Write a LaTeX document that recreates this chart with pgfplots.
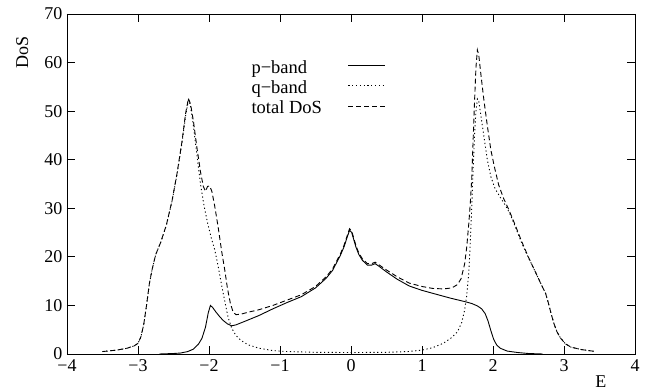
\documentclass[border=0pt]{standalone}
\usepackage{fontspec}
\setmainfont{Liberation Serif}
\usepackage{pgfplots}
\pgfplotsset{compat=1.18}
\usepackage{pgfplotstable}

\pgfplotstableread{
E D
-2.7 0
-2.5 0.1
-2.4 0.2
-2.3 0.5
-2.22 1.0
-2.15 2.0
-2.1 3.2
-2.05 5.5
-2.01 8.5
-1.98 10.0
-1.95 9.6
-1.9 8.6
-1.85 7.7
-1.8 6.9
-1.74 6.2
-1.68 5.8
-1.62 6.0
-1.5 6.7
-1.3 7.9
-1.1 9.3
-0.9 10.6
-0.7 11.8
-0.5 13.6
-0.35 15.6
-0.26 17.2
-0.15 20.3
-0.1 22.0
-0.05 24.2
-0.02 25.5
0.01 25.0
0.04 23.5
0.07 22.0
0.11 20.5
0.16 19.3
0.23 18.3
0.29 18.3
0.34 18.6
0.4 18.0
0.5 16.9
0.65 15.4
0.82 14.0
1.0 13.1
1.2 12.3
1.4 11.5
1.6 10.8
1.7 10.4
1.78 9.9
1.84 9.3
1.89 8.3
1.93 6.8
1.97 4.8
2.01 3.0
2.05 1.9
2.1 1.2
2.2 0.6
2.35 0.3
2.5 0.1
2.7 0
}\pband

\pgfplotstableread{
E D
-3.5 0.5
-3.3 0.8
-3.15 1.2
-3.05 1.7
-3.0 2.2
-2.96 3.5
-2.92 6
-2.88 10
-2.84 14.5
-2.8 17.5
-2.75 20.5
-2.68 23
-2.6 26.5
-2.52 31.5
-2.45 37
-2.38 43.5
-2.33 49
-2.29 52.3
-2.26 51
-2.22 47
-2.17 41
-2.12 35
-2.07 30.5
-2.02 27
-1.97 24
-1.92 21.5
-1.87 18
-1.82 14
-1.78 11
-1.73 7.5
-1.68 5.3
-1.62 3.8
-1.55 2.8
-1.45 1.9
-1.3 1.2
-1.1 0.7
-0.9 0.5
-0.5 0.35
0.0 0.3
0.5 0.35
0.8 0.5
1.0 0.8
1.15 1.3
1.3 2.2
1.42 3.4
1.5 4.6
1.56 6.5
1.6 9
1.63 12
1.66 17
1.68 23
1.7 30
1.72 38
1.74 45
1.76 50
1.78 52.5
1.8 52
1.83 49
1.87 45
1.92 40
1.97 36.5
2.03 34
2.1 32.3
2.18 30.5
2.25 28.5
2.32 26
2.4 23
2.5 19.8
2.6 16.8
2.68 14.3
2.74 12.5
2.78 10.5
2.82 8.2
2.86 6.2
2.9 4.6
2.95 3.3
3.02 2.1
3.1 1.4
3.25 0.9
3.45 0.5
}\qband

\pgfplotstableread{
E D
-3.5 0.5
-3.3 0.8
-3.15 1.2
-3.05 1.7
-3.0 2.2
-2.96 3.5
-2.92 6
-2.88 10
-2.84 14.5
-2.8 17.5
-2.75 20.5
-2.68 23
-2.6 26.6
-2.52 31.6
-2.45 37.2
-2.38 43.8
-2.33 49.5
-2.29 52.6
-2.26 51.5
-2.22 48
-2.17 42.5
-2.12 37.5
-2.08 34.5
-2.05 33.5
-2.02 34.5
-1.99 34.6
-1.96 33.5
-1.92 30.5
-1.87 26
-1.82 21
-1.78 17.5
-1.74 13.5
-1.7 10.5
-1.66 8.6
-1.62 8.1
-1.55 8.2
-1.45 8.6
-1.3 9.1
-1.1 10
-0.9 11.1
-0.7 12.2
-0.5 13.9
-0.35 15.9
-0.26 17.5
-0.15 20.6
-0.1 22.3
-0.05 24.5
-0.02 25.8
0.01 25.3
0.04 23.8
0.07 22.3
0.11 20.8
0.16 19.6
0.23 18.6
0.29 18.6
0.34 18.9
0.4 18.3
0.5 17.3
0.65 15.9
0.82 14.6
1.0 13.9
1.15 13.5
1.3 13.4
1.42 13.6
1.5 14.3
1.55 15.5
1.6 18.5
1.63 22
1.66 27
1.68 31
1.7 36
1.72 44
1.74 52
1.76 59
1.78 62.6
1.8 61.5
1.83 57.5
1.87 52.5
1.92 47
1.97 42
2.02 38.5
2.08 34.8
2.15 32
2.22 29.8
2.3 27
2.4 23.3
2.5 19.9
2.6 16.8
2.68 14.3
2.74 12.5
2.78 10.5
2.82 8.2
2.86 6.2
2.9 4.6
2.95 3.3
3.02 2.1
3.1 1.4
3.25 0.9
3.45 0.5
}\total

\begin{document}
\begin{tikzpicture}
\begin{axis}[
  width=568pt, height=340pt, scale only axis,
  xmin=-4, xmax=4, ymin=0, ymax=70,
  xtick={-4,-3,-2,-1,0,1,2,3,4},
  xticklabels={−4,−3,−2,−1,0,1,2,3,4},
  ytick={0,10,20,30,40,50,60,70},
  yticklabels={0,10,20,30,40,50,60,70},
  tick align=inside,
  major tick length=8pt,
  axis line style={line width=0.8pt},
  tick style={line width=0.8pt, black},
  tick label style={font=\fontsize{18}{20}\selectfont},
  xticklabel style={yshift=-2pt},
  yticklabel style={xshift=-1pt},
  every axis y label/.style={at={(axis description cs:-0.079,0.887)}, rotate=90, anchor=center, font=\fontsize{18}{20}\selectfont},
  every axis x label/.style={at={(axis description cs:0.94,-0.082)}, anchor=center, font=\fontsize{18}{20}\selectfont},
  xlabel={E}, ylabel={DoS},
  legend plot pos=right,
  legend cell align=left,
  legend image code/.code={\draw[#1] (0pt,2pt) -- (37pt,2pt);},
  legend style={at={(axis description cs:0.321,0.87)}, anchor=north west,
    draw=none, fill=none, inner sep=0pt, column sep=24pt, row sep=2pt,
    font=\fontsize{18.5}{20}\selectfont},
]
\addplot[black, line width=0.9pt] table[x=E,y=D] {\pband};
\addlegendentry{p−band}
\addplot[black, line width=0.9pt, dash pattern=on 1.2pt off 2.6pt] table[x=E,y=D] {\qband};
\addlegendentry{q−band}
\addplot[black, line width=0.9pt, dash pattern=on 5pt off 3pt] table[x=E,y=D] {\total};
\addlegendentry{total DoS}
\end{axis}
\path[use as bounding box] ([shift={(-67pt,-36pt)}]current axis.south west) rectangle ([shift={(17pt,14pt)}]current axis.north east);
\end{tikzpicture}
\end{document}
